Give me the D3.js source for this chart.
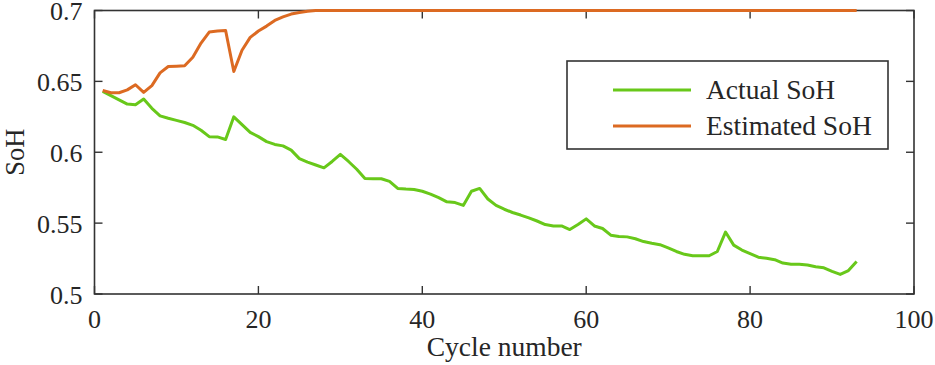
<!DOCTYPE html>
<html lang="en">
<head>
<meta charset="UTF-8">
<title>SoH estimation</title>
<style>
  body { margin: 0; background: #fff; }
  svg text { font-family: "Liberation Serif", "Times New Roman", serif; fill: #262626; }
</style>
</head>
<body>
<script src="https://cdn.jsdelivr.net/npm/d3@7"></script>
<script>
// cycles 1..93
var cycles = d3.range(1, 94);

var actualSoH = [
  0.643, 0.640, 0.637, 0.634, 0.6335, 0.6375, 0.631, 0.6257, 0.624, 0.6225,
  0.621, 0.619, 0.6155, 0.611, 0.6108, 0.609, 0.625, 0.6195, 0.614, 0.611,
  0.6075, 0.6055, 0.6045, 0.6015, 0.5955, 0.593, 0.591, 0.589, 0.5935, 0.5985,
  0.5935, 0.588, 0.5815, 0.5813, 0.5813, 0.5795, 0.5745, 0.574, 0.5737, 0.5725,
  0.5705, 0.568, 0.565, 0.5645, 0.5625, 0.5725, 0.5745, 0.567, 0.5625, 0.5598,
  0.5575, 0.5557, 0.5537, 0.5515, 0.549, 0.548, 0.548, 0.5455, 0.549, 0.553,
  0.548, 0.5462, 0.5415, 0.5405, 0.5403, 0.539, 0.537, 0.5358, 0.5348, 0.5325,
  0.530, 0.528, 0.527, 0.527, 0.527, 0.530, 0.5437, 0.5345, 0.531, 0.5285,
  0.526, 0.5252, 0.5242, 0.5218, 0.521, 0.521, 0.5205, 0.5192, 0.5185, 0.516,
  0.5138, 0.5165, 0.523
];

var estimatedSoH = [
  0.6436, 0.642, 0.642, 0.644, 0.6476, 0.6422, 0.647, 0.656, 0.6605, 0.6607,
  0.661, 0.667, 0.677, 0.6848, 0.6855, 0.6859, 0.657, 0.672, 0.681, 0.6855,
  0.689, 0.693, 0.6955, 0.6975, 0.6986, 0.6995, 0.700, 0.7, 0.7, 0.7,
  0.7, 0.7, 0.7, 0.7, 0.7, 0.7, 0.7, 0.7, 0.7, 0.7,
  0.7, 0.7, 0.7, 0.7, 0.7, 0.7, 0.7, 0.7, 0.7, 0.7,
  0.7, 0.7, 0.7, 0.7, 0.7, 0.7, 0.7, 0.7, 0.7, 0.7,
  0.7, 0.7, 0.7, 0.7, 0.7, 0.7, 0.7, 0.7, 0.7, 0.7,
  0.7, 0.7, 0.7, 0.7, 0.7, 0.7, 0.7, 0.7, 0.7, 0.7,
  0.7, 0.7, 0.7, 0.7, 0.7, 0.7, 0.7, 0.7, 0.7, 0.7,
  0.7, 0.7, 0.7
];

var xTicks = [0, 20, 40, 60, 80, 100];
var yTicks = [0.5, 0.55, 0.6, 0.65, 0.7];
var seriesNames = ["Actual SoH", "Estimated SoH"];
var seriesColors = ["#68c81a", "#dc6a22"];

var width = 935, height = 365;
var margin = {t: 10.5, r: 21, b: 71, l: 94.5};
var iw = width - margin.l - margin.r, ih = height - margin.t - margin.b;

var svg = d3.select("body").append("svg")
    .attr("width", width).attr("height", height);
var g = svg.append("g").attr("transform", "translate(" + margin.l + "," + margin.t + ")");

var x = d3.scaleLinear().domain([0, 100]).range([0, iw]);
var y = d3.scaleLinear().domain([0.5, 0.7]).range([ih, 0]);

var axisColor = "#333";
var tickLen = 8;

// frame
g.append("rect").attr("width", iw).attr("height", ih)
    .attr("fill", "none").attr("stroke", axisColor).attr("stroke-width", 1.6);

// inner ticks on all four sides (box style)
xTicks.forEach(function(t) {
  g.append("line").attr("x1", x(t)).attr("x2", x(t)).attr("y1", ih).attr("y2", ih - tickLen)
      .attr("stroke", axisColor).attr("stroke-width", 1.4);
  g.append("line").attr("x1", x(t)).attr("x2", x(t)).attr("y1", 0).attr("y2", tickLen)
      .attr("stroke", axisColor).attr("stroke-width", 1.4);
});
yTicks.forEach(function(t) {
  g.append("line").attr("x1", 0).attr("x2", tickLen).attr("y1", y(t)).attr("y2", y(t))
      .attr("stroke", axisColor).attr("stroke-width", 1.4);
  g.append("line").attr("x1", iw).attr("x2", iw - tickLen).attr("y1", y(t)).attr("y2", y(t))
      .attr("stroke", axisColor).attr("stroke-width", 1.4);
});

// tick labels
g.selectAll(".xlab").data(xTicks).enter().append("text")
    .attr("x", function(d) { return x(d); }).attr("y", ih + 34)
    .attr("text-anchor", "middle").attr("font-size", 26)
    .text(function(d) { return d; });
g.selectAll(".ylab").data(yTicks).enter().append("text")
    .attr("x", -12).attr("y", function(d) { return y(d) + 9.5; })
    .attr("text-anchor", "end").attr("font-size", 26)
    .text(function(d) { return d3.format("")(+d.toFixed(2)); });

// axis titles
g.append("text").attr("x", iw / 2).attr("y", ih + 62)
    .attr("text-anchor", "middle").attr("font-size", 27.5).text("Cycle number");
svg.append("text").attr("transform", "translate(24," + (margin.t + ih / 2) + ") rotate(-90)")
    .attr("text-anchor", "middle").attr("font-size", 26.5).text("SoH");

// lines
var line = d3.line().x(function(d) { return x(d[0]); }).y(function(d) { return y(d[1]); });
[actualSoH, estimatedSoH].forEach(function(vals, i) {
  g.append("path")
      .datum(cycles.map(function(c, j) { return [c, vals[j]]; }))
      .attr("d", line).attr("fill", "none")
      .attr("stroke", seriesColors[i]).attr("stroke-width", 3)
      .attr("stroke-linejoin", "round");
});

// legend
var lg = svg.append("g").attr("transform", "translate(567,61)");
lg.append("rect").attr("width", 321).attr("height", 88)
    .attr("fill", "#fff").attr("stroke", axisColor).attr("stroke-width", 1.6);
seriesNames.forEach(function(name, i) {
  var yy = 29 + i * 36;
  lg.append("line").attr("x1", 46).attr("x2", 124).attr("y1", yy).attr("y2", yy)
      .attr("stroke", seriesColors[i]).attr("stroke-width", 3);
  lg.append("text").attr("x", 139).attr("y", yy + 8.5).attr("font-size", 27.5).text(name);
});
</script>
</body>
</html>
